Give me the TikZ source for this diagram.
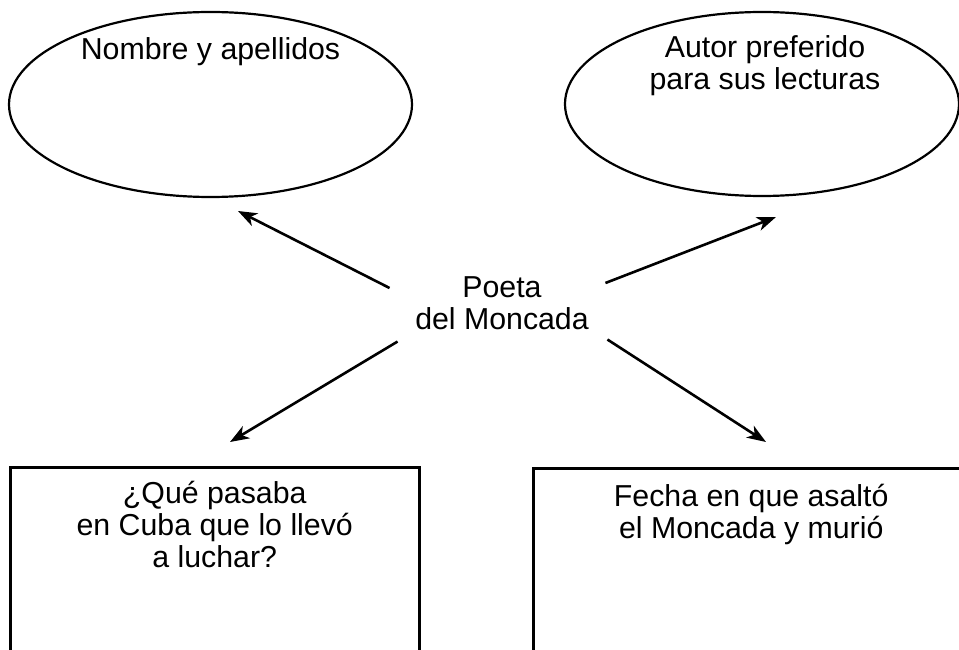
\documentclass[tikz,border=0pt]{standalone}
\usepackage{fontspec}
\setmainfont{Liberation Sans}
\usetikzlibrary{arrows.meta,positioning,shapes.geometric}

\begin{document}
\begin{tikzpicture}[x=1pt, y=1pt,
elipse/.style={draw, ellipse, line width=2.2pt, inner sep=0pt},
caja/.style={draw, line width=2.5pt, inner sep=0pt, anchor=north west, minimum height=260pt},
texto/.style={align=center, inner sep=0pt, font=\fontsize{30.3}{32}\selectfont},
flecha/.style={-{Stealth[length=19pt, width=14pt, inset=5.5pt]}, line width=2.6pt}
]
\useasboundingbox (0,0) rectangle (959,649);
\clip (0,0) rectangle (959,649);

\node[elipse, minimum width=403pt, minimum height=185pt] (nombre) at (210.5,544.5) {};
\node[elipse, minimum width=394pt, minimum height=184pt] (autor) at (762,545) {};
\node[caja, minimum width=409pt] (cuba) at (9,183) {};
\node[caja, minimum width=436pt] (fecha) at (532,182) {};

\node[texto, anchor=north] (poeta) at (502,373) {Poeta\\del Moncada};
\node[texto, below=26pt of nombre.north] (tnombre) {Nombre y apellidos};
\node[texto, below=24pt of autor.north, xshift=3pt] (tautor) {Autor preferido\\para sus lecturas};
\node[texto, below=14.5pt of cuba.north] (tcuba) {¿Qué pasaba\\en Cuba que lo llevó\\a luchar?};
\node[texto, below=17pt of fecha.north] (tfecha) {Fecha en que asaltó\\el Moncada y murió};

% puntas libres de las flechas
\coordinate (pnombre) at (238,438);
\coordinate (pautor) at (776,432);
\coordinate (pcuba) at (230,207);
\coordinate (pfecha) at (766,207);

\draw[flecha] ([shift={(-25.5,-12)}]poeta.north west) -- (pnombre);
\draw[flecha] ([shift={(16.5,-7)}]poeta.north east) -- (pautor);
\draw[flecha] ([shift={(-17.5,-12)}]poeta.south west) -- (pcuba);
\draw[flecha] ([shift={(18.5,-10)}]poeta.south east) -- (pfecha);
\end{tikzpicture}
\end{document}
